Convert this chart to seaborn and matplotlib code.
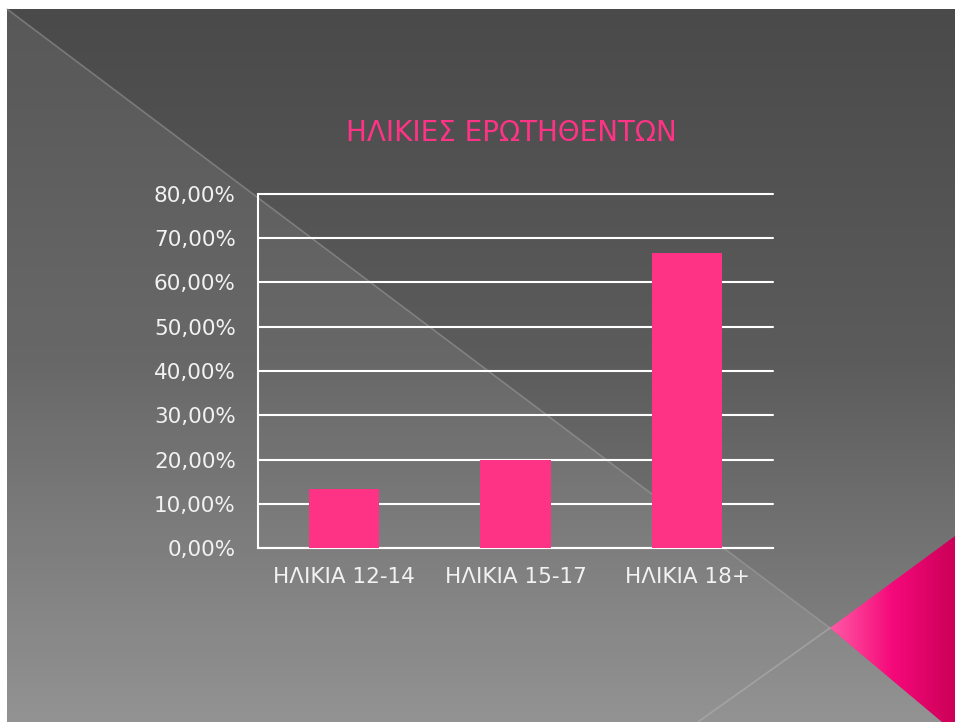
import numpy as np
import pandas as pd
import matplotlib
matplotlib.use("Agg")
import matplotlib.pyplot as plt
from matplotlib.patches import Polygon
from matplotlib.colors import LinearSegmentedColormap
from matplotlib.ticker import FuncFormatter, FixedLocator
import seaborn as sns

# ---- data ----
categories = ["ΗΛΙΚΙΑ 12-14", "ΗΛΙΚΙΑ 15-17", "ΗΛΙΚΙΑ 18+"]
shares = [0.1333, 0.20, 0.6667]
title = "ΗΛΙΚΙΕΣ ΕΡΩΤΗΘΕΝΤΩΝ"

PINK = "#ff3385"
TXT = "#f2f2f2"

sns.set_style("white")
plt.rcParams["font.family"] = ["DejaVu Sans"]

W, H = 955, 722
fig = plt.figure(figsize=(W / 100, H / 100), dpi=100, facecolor="white")

# ---- slide background (pixel coordinates) ----
bg = fig.add_axes([0, 0, 1, 1])
bg.set_xlim(0, W)
bg.set_ylim(H, 0)
bg.axis("off")
grad = np.linspace(0, 1, 256).reshape(-1, 1)
gray = LinearSegmentedColormap.from_list(
    "g", [(0, "#4a4a4a"), (0.5, "#5c5c5c"), (1, "#8a8a8a")])
bg.imshow(grad, cmap=gray, extent=[7, W, H, 9], aspect="auto", zorder=0)
light = Polygon([(7, 9), (830, 628), (942, 722), (7, 722)], closed=True,
                facecolor="white", alpha=0.08, edgecolor="none", zorder=1)
bg.add_patch(light)
bg.plot([7, 830], [9, 628], color="#a8a8a8", lw=1.2, alpha=0.45, zorder=2)
bg.plot([830, 698], [628, 722], color="#b0b0b0", lw=1.2, alpha=0.6, zorder=2)

# pink corner triangle with horizontal gradient
tri = Polygon([(830, 628), (955, 536), (955, 722), (942, 722)], closed=True,
              facecolor="none", edgecolor="none")
bg.add_patch(tri)
pinkmap = LinearSegmentedColormap.from_list("p", ["#ff5aa5", "#f5097a", "#cc0058"])
img = bg.imshow(np.linspace(0, 1, 256).reshape(1, -1), cmap=pinkmap,
                extent=[830, 955, 722, 536], aspect="auto", zorder=3)
img.set_clip_path(tri)

fig.text(511 / W, 1 - 133 / H, title, color=PINK, fontsize=20,
         ha="center", va="center")

# ---- chart ----
ax = fig.add_axes([258 / W, 1 - 548 / H, (773 - 258) / W, (548 - 194) / H])
ax.patch.set_alpha(0)
df = pd.DataFrame({"cat": categories, "val": shares})
sns.barplot(data=df, x="cat", y="val", color=PINK, width=0.41,
            saturation=1, edgecolor="none", linewidth=0, ax=ax, zorder=3)

ax.set_ylim(0, 0.8)
ax.set_xlim(-0.5, len(categories) - 0.5)
ax.set_yticks(np.arange(0, 0.81, 0.1))
ax.yaxis.set_major_formatter(FuncFormatter(lambda v, p: f"{v * 100:.2f}%".replace(".", ",")))
ax.yaxis.grid(True, color="white", lw=1.5, zorder=1)
for gl in ax.get_ygridlines():
    gl.set_clip_on(False)
ax.xaxis.grid(False)

ax.xaxis.set_major_locator(FixedLocator(np.arange(-0.5, len(categories), 1.0)))
ax.xaxis.set_major_formatter(FuncFormatter(lambda v, p: ""))
ax.xaxis.set_minor_locator(FixedLocator(np.arange(len(categories))))
ax.set_xticklabels(categories, minor=True)
ax.tick_params(axis="x", which="major", length=6, width=1.5, color="white", direction="out")
ax.tick_params(axis="x", which="minor", length=0, pad=14, labelcolor=TXT, labelsize=15.5)
ax.tick_params(axis="y", length=6, width=1.5, color="white", direction="out",
               labelcolor=TXT, labelsize=15.5, pad=10)
ax.set_xlabel("")
ax.set_ylabel("")

for s in ["top", "right"]:
    ax.spines[s].set_visible(False)
for s in ["left", "bottom"]:
    ax.spines[s].set_color("white")
    ax.spines[s].set_linewidth(1.5)

fig.savefig("out.png", dpi=100, facecolor="white")
